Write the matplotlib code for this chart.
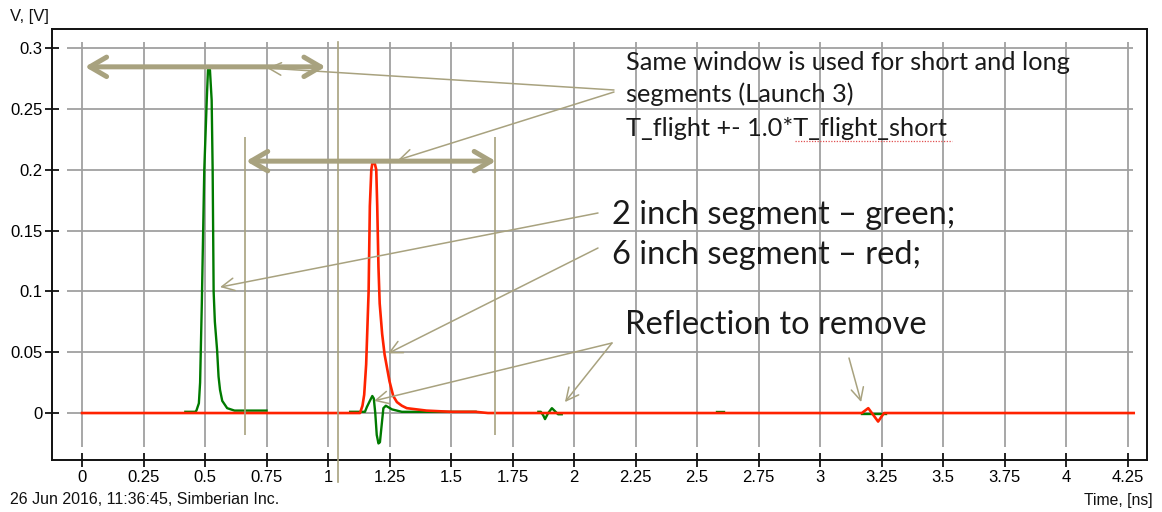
import numpy as np
import matplotlib
matplotlib.use("Agg")
import matplotlib.pyplot as plt
from matplotlib.lines import Line2D

# ---- waveform data (time in ns, voltage in V) ----
green_pulse_t = [0.420, 0.440, 0.460, 0.465, 0.475, 0.480, 0.487, 0.497, 0.507, 0.512,
                 0.520, 0.527, 0.531, 0.535, 0.540, 0.549, 0.555, 0.561, 0.570, 0.590,
                 0.620, 0.750]
green_pulse_v = [0.001, 0.001, 0.001, 0.002, 0.008, 0.025, 0.090, 0.200, 0.257, 0.282,
                 0.282, 0.257, 0.200, 0.100, 0.075, 0.052, 0.030, 0.019, 0.010, 0.004,
                 0.002, 0.002]

green_echo_t = [1.090, 1.150, 1.158, 1.170, 1.180, 1.186, 1.192, 1.198, 1.205, 1.211,
                1.218, 1.225, 1.235, 1.260, 1.300, 1.400, 1.600]
green_echo_v = [0.001, 0.001, 0.005, 0.010, 0.014, 0.012, 0.000, -0.018, -0.025, -0.024,
                -0.010, 0.004, 0.006, 0.003, 0.001, 0.001, 0.001]

green_refl_t = [1.855, 1.865, 1.875, 1.882, 1.895, 1.910, 1.925, 1.935, 1.950]
green_refl_v = [0.001, 0.001, -0.002, -0.005, 0.000, 0.004, 0.001, -0.001, -0.001]

green_blip_t = [2.580, 2.610]
green_blip_v = [0.001, 0.001]

green_tail_t = [3.170, 3.270]
green_tail_v = [-0.001, -0.001]

red_t = [0.000, 1.130, 1.140, 1.147, 1.155, 1.160, 1.165, 1.170, 1.176, 1.180, 1.190,
         1.196, 1.200, 1.205, 1.210, 1.220, 1.230, 1.240, 1.250, 1.265, 1.280, 1.300,
         1.320, 1.400, 1.500, 1.600, 1.650, 3.170, 3.196, 3.236, 3.260, 4.275]
red_v = [0.000, 0.000, 0.006, 0.015, 0.040, 0.070, 0.100, 0.170, 0.200, 0.205, 0.205,
         0.200, 0.170, 0.120, 0.090, 0.065, 0.048, 0.037, 0.026, 0.014, 0.009, 0.006,
         0.004, 0.002, 0.001, 0.001, 0.000, 0.000, 0.004, -0.007, 0.000, 0.000]

x_ticks = [0, 0.25, 0.5, 0.75, 1, 1.25, 1.5, 1.75, 2, 2.25, 2.5, 2.75, 3, 3.25,
           3.5, 3.75, 4, 4.25]
x_tick_labels = ["0", "0.25", "0.5", "0.75", "1", "1.25", "1.5", "1.75", "2", "2.25",
                 "2.5", "2.75", "3", "3.25", "3.5", "3.75", "4", "4.25"]
y_ticks = [0, 0.05, 0.1, 0.15, 0.2, 0.25, 0.3]
y_tick_labels = ["0", "0.05", "0.1", "0.15", "0.2", "0.25", "0.3"]

# ---- styling ----
W, H, DPI = 1162, 512, 100
KHAKI = "#a8a27f"
GRID = "#a0a0a0"
GREEN = "#007a00"
RED = "#ff2200"
TICK_FONT = "Liberation Sans"
NOTE_FONT = "Lato"

fig = plt.figure(figsize=(W / DPI, H / DPI), dpi=DPI)
ax = fig.add_axes([52 / W, 1 - 460 / H, (1147 - 52) / W, (460 - 29) / H])
ax.set_xlim(-0.122, 4.329)
ax.set_ylim(-0.0386, 0.3156)

for s in ax.spines.values():
    s.set_linewidth(1.4)
    s.set_color("#111111")

ax.set_xticks(x_ticks)
ax.set_xticklabels(x_tick_labels)
ax.set_yticks(y_ticks)
ax.set_yticklabels(y_tick_labels)
ax.tick_params(direction="inout", length=10, width=1.3, color="#111111",
               labelsize=12, pad=2)
for lab in ax.get_xticklabels() + ax.get_yticklabels():
    lab.set_family(TICK_FONT)

# inset grid
ax.vlines(x_ticks, -0.028, 0.305, color=GRID, lw=1.3, zorder=1)
ax.hlines(y_ticks, -0.061, 4.272, color=GRID, lw=1.3, zorder=1)

# waveforms
for t, v in [(green_pulse_t, green_pulse_v), (green_echo_t, green_echo_v),
             (green_refl_t, green_refl_v), (green_blip_t, green_blip_v),
             (green_tail_t, green_tail_v)]:
    ax.plot(t, v, color=GREEN, lw=1.7, zorder=3)
ax.plot(red_t, red_v, color=RED, lw=1.9, zorder=4)

# time-window markers
ax.vlines([0.663, 1.679], -0.018, 0.227, color=KHAKI, lw=1.2, zorder=5)
ax.plot([1.041, 1.041], [0.305, -0.057], color=KHAKI, lw=1.2, zorder=5, clip_on=False)

thick = dict(arrowstyle="<->,head_length=1.2,head_width=0.7", color=KHAKI, lw=3.6,
             shrinkA=0, shrinkB=0)
ax.annotate("", xy=(0.012, 0.2845), xytext=(0.990, 0.2845), arrowprops=thick, zorder=6)
ax.annotate("", xy=(0.667, 0.207), xytext=(1.682, 0.207), arrowprops=thick, zorder=6)

# callout arrows (tail in figure pixels measured from top-left)
thin = dict(arrowstyle="->,head_length=0.9,head_width=0.45", color=KHAKI, lw=1.1,
            shrinkA=0, shrinkB=0)
callouts = [
    ((0.752, 0.2835), (614, 90)),
    ((1.285, 0.208), (614, 92)),
    ((0.561, 0.1035), (598, 213)),
    ((1.244, 0.049), (598, 248)),
    ((1.187, 0.010), (612, 343)),
    ((1.963, 0.009), (612, 343)),
    ((3.167, 0.009), (849, 358)),
]
for tip, (px, py) in callouts:
    ax.annotate("", xy=tip, xytext=(px, H - py), textcoords="figure pixels",
                arrowprops=thin, zorder=7)

# notes
def note(x, y, s, size):
    fig.text(x / W, 1 - y / H, s, fontsize=size, family=NOTE_FONT, color="#1a1a1a",
             ha="left", va="center", zorder=10)

note(626, 62, "Same window is used for short and long", 18.3)
note(626, 94, "segments (Launch 3)", 18.3)
note(626, 128, "T_flight +- 1.0*T_flight_short", 18.3)
note(612, 215, "2 inch segment \u2013 green;", 23.5)
note(612, 255, "6 inch segment \u2013 red;", 23.5)
note(625, 325, "Reflection to remove", 23.5)

# spell-check squiggle under the last word
fig.add_artist(Line2D([795 / W, 952 / W], [1 - 141 / H, 1 - 141 / H], color="#e05050",
                      lw=0.9, ls=(0, (1, 1.2))))

# captions
fig.text(10 / W, 1 - 17 / H, "V, [V]", fontsize=12, family=TICK_FONT, va="center",
         ha="left", color="#111111")
fig.text(10 / W, 1 - 500 / H, "26 Jun 2016, 11:36:45, Simberian Inc.", fontsize=11.5,
         family=TICK_FONT, va="center", ha="left", color="#111111")
fig.text(1153 / W, 1 - 500 / H, "Time, [ns]", fontsize=11.3, family=TICK_FONT,
         va="center", ha="right", color="#111111")

fig.savefig("out.png", dpi=DPI)
